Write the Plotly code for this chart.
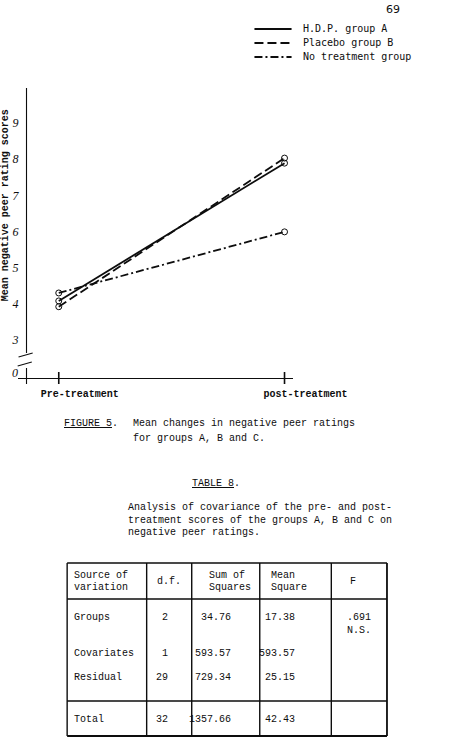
import plotly.graph_objects as go

W, H = 455, 745


def px(x):
    return x / W


def py(y):
    return 1 - y / H


# ---------------- data ----------------
phases = ["Pre-treatment", "post-treatment"]
group_names = ["H.D.P. group A", "Placebo group B", "No treatment group"]
hdp_a = [4.08, 7.89]
placebo_b = [3.92, 8.03]
no_treatment = [4.30, 5.99]
y_tick_vals = [3, 4, 5, 6, 7, 8, 9]
y_tick_text = ["3", "4", "5", "6", "7", "8", "9"]
y_title = "Mean negative peer rating scores"

caption_label = "FIGURE 5."
caption_lines = ["Mean changes in negative peer ratings", "for groups A, B and C."]
table_title = "TABLE 8."
table_desc = [
    "Analysis of covariance of the pre- and post-",
    "treatment scores of the groups A, B and C on",
    "negative peer ratings.",
]
hdr_source = ["Source of", "variation"]
hdr_df = "d.f."
hdr_ss = ["Sum of", "Squares"]
hdr_ms = ["Mean", "Square"]
hdr_f = "F"
sources = ["Groups", "Covariates", "Residual", "Total"]
dfs = ["2", "1", "29", "32"]
sum_sq = ["34.76", "593.57", "729.34", "1357.66"]
mean_sq = ["17.38", "593.57", "25.15", "42.43"]
f_value = [".691", "N.S."]
page_number = "69"

# ---------------- styles ----------------
INK = "#0d0d0d"
MONO = "Liberation Mono"
SANSMONO = "DejaVu Sans Mono"
series = [
    (group_names[0], hdp_a, "solid"),
    (group_names[1], placebo_b, "9px,4px"),
    (group_names[2], no_treatment, "8px,3px,2px,3px"),
]

fig = go.Figure()
for name, vals, dash in series:
    fig.add_trace(go.Scatter(
        x=phases, y=vals, mode="lines+markers", name=name,
        line=dict(color=INK, width=1.8, dash=dash),
        marker=dict(symbol="circle-open", size=6, color=INK, line=dict(width=1, color=INK)),
        cliponaxis=False, showlegend=False,
    ))

shapes = []
annotations = []


def hline(x0, x1, y, w=1.3, dash="solid"):
    shapes.append(dict(type="line", xref="paper", yref="paper", x0=px(x0), x1=px(x1),
                       y0=py(y), y1=py(y), line=dict(color=INK, width=w, dash=dash)))


def vline(x, y0, y1, w=1.3):
    shapes.append(dict(type="line", xref="paper", yref="paper", x0=px(x), x1=px(x),
                       y0=py(y0), y1=py(y1), line=dict(color=INK, width=w)))


def text(x, y, s, anchor="left", size=10, family=MONO, bold=False, **kw):
    if bold:
        s = "<b>" + s + "</b>"
    annotations.append(dict(xref="paper", yref="paper", x=px(x), y=py(y), text=s,
                            showarrow=False, xanchor=anchor, yanchor="middle",
                            font=dict(family=family, size=size, color=INK), **kw))


# page number
text(455, 10, page_number, anchor="right", size=11, family="DejaVu Sans")

# legend (manual)
for i, (name, vals, dash) in enumerate(series):
    yy = 29 + 14 * i
    hline(288, 330, yy, w=1.8, dash=dash)
    text(341, yy, name, family=SANSMONO, size=10)

# y axis with break
vline(30, 88, 353, w=1.1)
vline(30, 368, 384, w=1.1)
shapes.append(dict(type="line", xref="paper", yref="paper", x0=px(21), x1=px(37),
                   y0=py(357), y1=py(353), line=dict(color=INK, width=1.1)))
shapes.append(dict(type="line", xref="paper", yref="paper", x0=px(20), x1=px(36),
                   y0=py(366), y1=py(362), line=dict(color=INK, width=1.1)))
text(17, 373, "0", anchor="center", size=12, family="Liberation Serif")
annotations[-1]["font"]["style"] = "italic"

# x tick marks crossing the axis
for ph in phases:
    shapes.append(dict(type="line", xref="x", yref="paper", x0=ph, x1=ph,
                       y0=py(384), y1=py(372), line=dict(color=INK, width=1.6)))

# y title
annotations.append(dict(xref="paper", yref="paper", x=px(7), y=py(205), text="<b>" + y_title + "</b>",
                        textangle=-90, showarrow=False, xanchor="center", yanchor="middle",
                        font=dict(family=MONO, size=10, color=INK)))

# caption
text(70, 423, "<u>FIGURE 5</u>.")
text(148, 423, caption_lines[0])
text(148, 439, caption_lines[1])
text(215, 483, "<u>TABLE 8</u>.")
for i, line in enumerate(table_desc):
    text(143, 508 + 12 * i, line)

# table borders
col_x = [76, 166, 217, 294, 375, 438]
row_top, row_hdr, row_tot, row_bot = 563, 599, 701, 736
hline(col_x[0], col_x[-1], row_top, w=1.4)
hline(col_x[0], col_x[-1], row_hdr, w=1.4)
hline(col_x[0], col_x[-1], row_tot, w=1.4)
hline(col_x[0], col_x[-1], row_bot, w=1.8)
for cx in col_x:
    vline(cx, row_top, row_bot, w=1.8 if cx == col_x[-1] else 1.4)

# header
text(82, 575, hdr_source[0])
text(82, 587, hdr_source[1])
text(191, 581, hdr_df, anchor="center")
text(234, 575, hdr_ss[0])
text(234, 587, hdr_ss[1])
text(305, 575, hdr_ms[0])
text(305, 587, hdr_ms[1])
text(400, 581, hdr_f, anchor="center")

row_y = [617, 653, 677, 719]
for i in range(len(sources)):
    text(82, row_y[i], sources[i])
    text(192, row_y[i], dfs[i], anchor="right")
    text(264, row_y[i], sum_sq[i], anchor="right")
    text(336, row_y[i], mean_sq[i], anchor="right")
text(391, 617, f_value[0])
text(391, 630, f_value[1])

fig.update_layout(
    width=W, height=H, autosize=False,
    margin=dict(l=0, r=0, t=0, b=0),
    paper_bgcolor="white", plot_bgcolor="white",
    showlegend=False,
    xaxis=dict(
        domain=[px(20), px(332)], type="category", range=[-0.182, 1.039],
        showline=True, linecolor=INK, linewidth=1.1, showgrid=False, zeroline=False,
        ticks="", tickfont=dict(family=MONO, size=10, color=INK, weight="bold"),
        ticklabelshift=21, ticklabelstandoff=6,
    ),
    yaxis=dict(
        domain=[py(378), py(88)], range=[1.949, 9.968],
        showline=False, showgrid=False, zeroline=False,
        anchor="free", position=px(30),
        tickvals=y_tick_vals, ticktext=y_tick_text, ticks="",
        tickfont=dict(family="Liberation Serif", size=12, color=INK, style="italic"),
        ticklabelstandoff=8,
    ),
    shapes=shapes,
    annotations=annotations,
)

fig.write_html("out.html")
